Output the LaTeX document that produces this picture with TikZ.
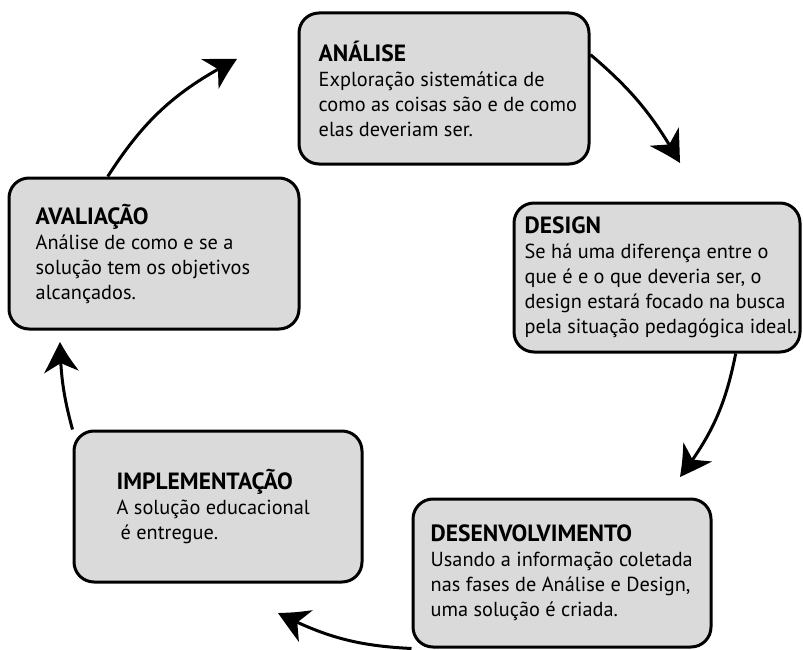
\documentclass[tikz,border=0pt]{standalone}
\usepackage{fontspec}
\setmainfont{PT Sans}
\usetikzlibrary{arrows.meta,bending}
\definecolor{boxfill}{RGB}{218,218,218}
\newcommand{\stagetitle}[1]{{\fontsize{23.5}{25}\selectfont\bfseries #1}}
\begin{document}
\begin{tikzpicture}[x=1pt,y=-1pt,
  stage/.style={draw=black, line width=3pt, fill=boxfill, rounded corners=20pt, inner sep=0pt},
  txt/.style={anchor=west, inner sep=0pt, align=left, font=\fontsize{20.3}{25}\selectfont},
  flow/.style={line width=3pt, -{Stealth[length=32pt,width=34pt,inset=10pt,bend]}}]
\useasboundingbox (0,0) rectangle (803,650);

% arrow tips (free ends)
\coordinate (t1) at (680,163);
\coordinate (t2) at (680,477);
\coordinate (t3) at (278,613);
\coordinate (t4) at (60,342);
\coordinate (t5) at (237,59);

% stage boxes
\node[stage, minimum width=290pt, minimum height=151pt] (a) at (444,88.5) {};
\node[stage, minimum width=286pt, minimum height=149pt] (d) at (657,277.5) {};
\node[stage, minimum width=298pt, minimum height=148pt] (v) at (562,573) {};
\node[stage, minimum width=288pt, minimum height=151pt] (i) at (218,506.5) {};
\node[stage, minimum width=290pt, minimum height=151pt] (e) at (154,253.5) {};

% connectors
\draw[flow] (a.13) to[bend left=10] (t1);
\draw[flow] (d.-44) to[bend left=13] (t2);
\draw[flow] (v.south west) to[bend left=12] (t3);
\draw[flow] (i.north west) to[bend left=7] (t4);
\draw[flow] (e.121) to[bend left=15] (t5);

% texts
\node[txt] (at) at ([xshift=21pt]a.west) {\stagetitle{ANÁLISE}\\Exploração sistemática de\\como as coisas são e de como\\elas deveriam ser.};
\node[txt] (dt) at ([xshift=12pt]d.west) {\stagetitle{DESIGN}\\Se há uma diferença entre o\\que é e o que deveria ser, o\\design estará focado na busca\\pela situação pedagógica ideal.};
\node[txt] (vt) at ([xshift=19pt]v.west) {\stagetitle{DESENVOLVIMENTO}\\Usando a informação coletada\\nas fases de Análise e Design,\\uma solução é criada.};
\node[txt] (it) at ([xshift=44pt]i.west) {\stagetitle{IMPLEMENTAÇÃO}\\A solução educacional\\\hspace{4pt}é entregue.};
\node[txt] (et) at ([xshift=28pt]e.west) {\stagetitle{AVALIAÇÃO}\\Análise de como e se a\\solução tem os objetivos\\alcançados.};
\end{tikzpicture}
\end{document}
